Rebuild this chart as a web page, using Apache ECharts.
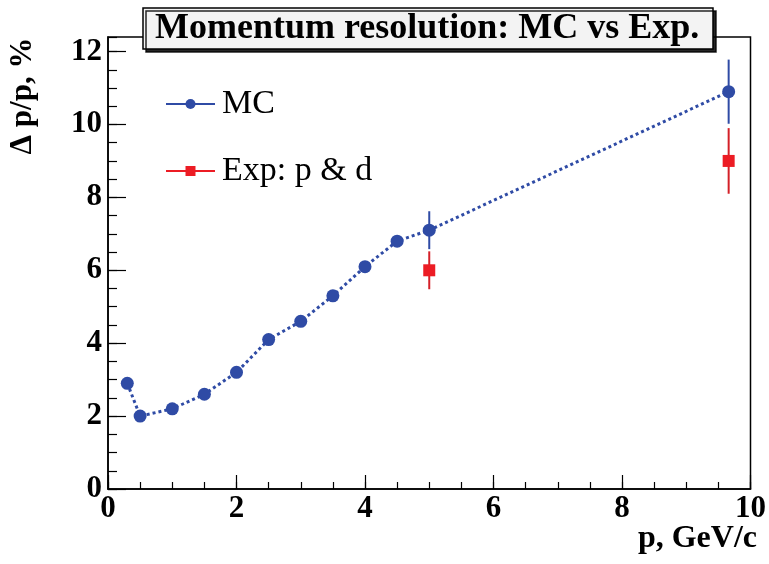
<!DOCTYPE html>
<html>
<head>
<meta charset="utf-8">
<script src="https://cdn.jsdelivr.net/npm/echarts@6/dist/echarts.min.js"></script>
<style>
html,body{margin:0;padding:0;background:#fff;}
#chart{width:769px;height:564px;}
</style>
</head>
<body>
<div id="chart"></div>
<script>
// ---- data ----
const mcP      = [0.3, 0.5, 1.0, 1.5, 2.0, 2.5, 3.0, 3.5, 4.0, 4.5, 5.0, 9.66];
const mcRes    = [2.9, 2.0, 2.2, 2.6, 3.2, 4.1, 4.6, 5.3, 6.1, 6.8, 7.1, 10.9];
const mcErr    = [0.1, 0.08, 0.08, 0.08, 0.08, 0.1, 0.1, 0.1, 0.1, 0.1, 0.52, 0.88];
const expP     = [5.0, 9.66];
const expRes   = [6.0, 9.0];
const expErr   = [0.52, 0.9];
const xTicks   = [0, 2, 4, 6, 8, 10];
const yTicks   = [0, 2, 4, 6, 8, 10, 12];

const BLUE = '#2f4ba5';
const RED = '#ec1c24';
const FONT = '"Liberation Serif", "DejaVu Serif", serif';

const mcData = mcP.map((p, i) => [p, mcRes[i]]);
const expData = expP.map((p, i) => [p, expRes[i]]);
const mcErrData = mcP.map((p, i) => [p, mcRes[i] - mcErr[i], mcRes[i] + mcErr[i]]);
const expErrData = expP.map((p, i) => [p, expRes[i] - expErr[i], expRes[i] + expErr[i]]);

function errRender(color) {
  return function (params, api) {
    const x = api.value(0);
    const lo = api.coord([x, api.value(1)]);
    const hi = api.coord([x, api.value(2)]);
    return {
      type: 'line',
      shape: { x1: lo[0], y1: lo[1], x2: hi[0], y2: hi[1] },
      style: { stroke: color, lineWidth: 2 }
    };
  };
}

const chart = echarts.init(document.getElementById('chart'), null, { renderer: 'canvas' });

const option = {
  animation: false,
  backgroundColor: '#fff',
  title: {
    text: 'Momentum resolution: MC vs Exp.',
    left: 143,
    top: 8,
    padding: [2, 14, 2, 12],
    backgroundColor: '#f3f3f3',
    borderColor: '#000',
    borderWidth: 1.5,
    shadowColor: 'rgba(0,0,0,0.85)',
    shadowOffsetX: 3,
    shadowOffsetY: 3,
    shadowBlur: 0,
    textStyle: { fontFamily: FONT, fontWeight: 'bold', fontSize: 36, color: '#000', lineHeight: 37 }
  },
  legend: {
    orient: 'vertical',
    left: 160,
    top: 82,
    itemWidth: 49,
    itemHeight: 12.5,
    itemGap: 33,
    lineStyle: { width: 2, type: 'solid', opacity: 1 },
    textStyle: { fontFamily: FONT, fontSize: 34, lineHeight: 34, color: '#000', padding: [0, 0, 0, 2] },
    data: ['MC', 'Exp: p & d']
  },
  grid: {
    left: 108, right: 18, top: 37, bottom: 75,
    show: true, borderColor: '#000', borderWidth: 1.5, backgroundColor: 'transparent'
  },
  xAxis: [
    {
      type: 'value', min: 0, max: 10, interval: 2,
      axisLine: { show: true, lineStyle: { color: '#000', width: 1.5 } },
      axisTick: { show: true, inside: true, length: 14, lineStyle: { color: '#000', width: 1.2 } },
      axisLabel: {
        fontFamily: FONT, fontWeight: 'bold', fontSize: 31, color: '#000', margin: 4,
        formatter: v => (xTicks.indexOf(v) >= 0 ? String(v) : '')
      },
      splitLine: { show: false }
    },
    {
      type: 'value', min: 0, max: 10, interval: 0.5, position: 'bottom',
      axisLine: { show: false },
      axisTick: { show: true, inside: true, length: 7, lineStyle: { color: '#000', width: 1.2 } },
      axisLabel: { show: false },
      splitLine: { show: false }
    }
  ],
  yAxis: [
    {
      type: 'value', min: 0, max: 12.4, interval: 2,
      axisLine: { show: true, lineStyle: { color: '#000', width: 1.5 } },
      axisTick: { show: true, inside: true, length: 18, lineStyle: { color: '#000', width: 1.2 } },
      axisLabel: {
        fontFamily: FONT, fontWeight: 'bold', fontSize: 31, color: '#000', margin: 6,
        showMaxLabel: false,
        formatter: v => (yTicks.indexOf(v) >= 0 ? String(v) : '')
      },
      splitLine: { show: false }
    },
    {
      type: 'value', min: 0, max: 12.4, interval: 0.5, position: 'left',
      axisLine: { show: false },
      axisTick: { show: true, inside: true, length: 9, lineStyle: { color: '#000', width: 1.2 } },
      axisLabel: { show: false },
      splitLine: { show: false }
    }
  ],
  graphic: [
    {
      type: 'text', x: 23, y: 96, rotation: Math.PI / 2,
      style: {
        text: 'Δ p/p, %', fontFamily: FONT, fontWeight: 'bold', fontSize: 31, fill: '#000',
        align: 'center', verticalAlign: 'middle'
      }
    },
    {
      type: 'text', x: 757, y: 539,
      style: {
        text: 'p, GeV/c', fontFamily: FONT, fontWeight: 'bold', fontSize: 32, fill: '#000',
        align: 'right', verticalAlign: 'middle'
      }
    }
  ],
  series: [
    {
      type: 'custom', name: 'mcErr', renderItem: errRender(BLUE), data: mcErrData,
      encode: { x: 0, y: [1, 2] }, z: 2, silent: true
    },
    {
      type: 'custom', name: 'expErr', renderItem: errRender('#d42028'), data: expErrData,
      encode: { x: 0, y: [1, 2] }, z: 2, silent: true
    },
    {
      name: 'MC', type: 'line', data: mcData,
      symbol: 'circle', symbolSize: 13, showAllSymbol: true,
      itemStyle: { color: BLUE },
      lineStyle: { color: BLUE, width: 3, type: [3, 3] },
      z: 3
    },
    {
      name: 'Exp: p & d', type: 'line', data: expData,
      symbol: 'rect', symbolSize: 12, showAllSymbol: true,
      itemStyle: { color: RED },
      lineStyle: { color: RED, width: 2, opacity: 0 },
      z: 4
    }
  ]
};
chart.setOption(option);
</script>
</body>
</html>
